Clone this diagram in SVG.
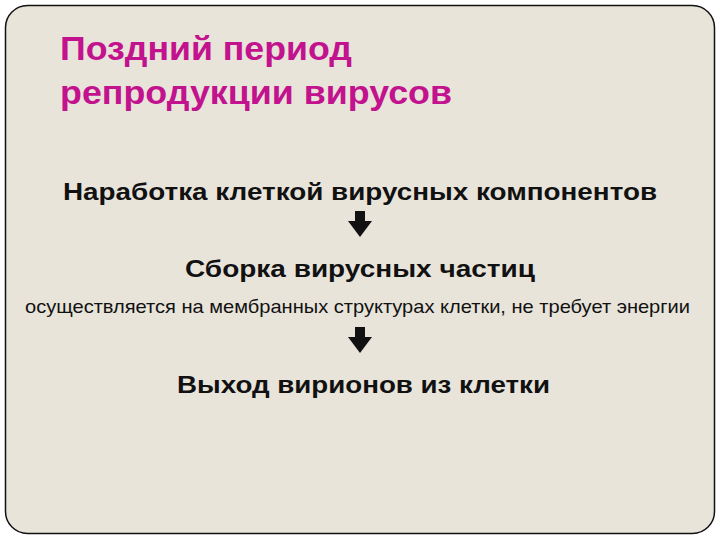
<svg xmlns="http://www.w3.org/2000/svg" xmlns:xlink="http://www.w3.org/1999/xlink" width="720" height="540" viewBox="0 0 720 540">
<style>
.title{font-family:"Liberation Sans",Arial,sans-serif;font-weight:bold;font-size:33px;fill:#c2128e}
.main{font-family:"Liberation Sans",Arial,sans-serif;font-weight:bold;font-size:24px;fill:#111}
.sub{font-family:"Liberation Sans",Arial,sans-serif;font-size:18.5px;fill:#111}
.arr{fill:#111}
</style>
<defs>
<path id="darrow" d="M-5,0 H5 V10 H12 L0,26 L-12,10 H-5 Z"/>
</defs>
<rect x="0" y="0" width="720" height="540" fill="#ffffff"/>
<rect x="5.5" y="5.5" width="709" height="528" rx="22" ry="22" fill="#e8e4da" stroke="#111" stroke-width="1.5"/>
<g id="title">
<text class="title" x="60" y="60" textLength="292" lengthAdjust="spacingAndGlyphs">Поздний период</text>
<text class="title" x="60" y="104" textLength="392" lengthAdjust="spacingAndGlyphs">репродукции вирусов</text>
</g>
<g id="node1"><text class="main" x="63" y="200" textLength="594" lengthAdjust="spacingAndGlyphs">Наработка клеткой вирусных компонентов</text></g>
<g id="node2"><text class="main" x="185" y="277" textLength="350" lengthAdjust="spacingAndGlyphs">Сборка вирусных частиц</text></g>
<g id="note"><text class="sub" x="25" y="313" textLength="665" lengthAdjust="spacingAndGlyphs">осуществляется на мембранных структурах клетки, не требует энергии</text></g>
<g id="node3"><text class="main" x="177" y="393" textLength="373" lengthAdjust="spacingAndGlyphs">Выход вирионов из клетки</text></g>
<g id="connectors" class="arr">
<use xlink:href="#darrow" x="360" y="211"/>
<use xlink:href="#darrow" x="360" y="327"/>
</g>
</svg>
